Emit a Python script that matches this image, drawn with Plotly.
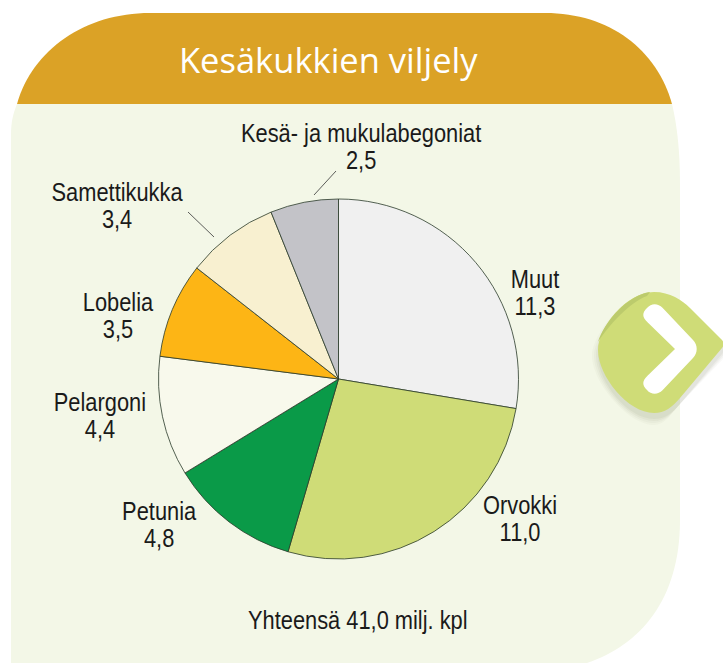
import plotly.graph_objects as go

W, H = 723, 663
categories = ["Muut", "Orvokki", "Petunia", "Pelargoni", "Lobelia", "Samettikukka", "Kesä- ja mukulabegoniat"]
values = [11.3, 11.0, 4.8, 4.4, 3.5, 3.4, 2.5]
value_labels = ["11,3", "11,0", "4,8", "4,4", "3,5", "3,4", "2,5"]
colors = ["#f0f0f0", "#cfdc77", "#0a9a48", "#f8f9ec", "#fdb515", "#f8f0d0", "#c3c3c8"]
label_pos = [(535, 292.5), (520, 519), (159, 525), (100, 416), (118, 315.5), (117, 206), (361, 146.5)]
title = "Kesäkukkien viljely"
total = "Yhteensä 41,0 milj. kpl"
FONT = "Liberation Sans, sans-serif"

px = lambda x: x / W
py = lambda y: 1 - y / H


def path(cmds):
    out = []
    for c in cmds:
        pts = " ".join(f"{px(c[i]):.5f},{py(c[i+1]):.5f}" for i in range(1, len(c), 2))
        out.append(f"{c[0]} {pts}")
    return " ".join(out) + " Z"


def shape(cmds, fill, opacity=1.0):
    return dict(type="path", xref="paper", yref="paper", path=path(cmds), fillcolor=fill,
                opacity=opacity, line=dict(width=0), layer="below")


def button(dx, dy, g=0):
    return [
        ("M", 598 + dx - g, 350 + dy),
        ("C", 598 + dx - g, 328 + dy, 626 + dx, 292 + dy - g, 654 + dx, 292 + dy - g),
        ("C", 670 + dx, 292 + dy - g, 682 + dx, 300 + dy, 690 + dx, 308 + dy),
        ("L", 722 + dx + g, 340 + dy),
        ("C", 724 + dx + g, 342 + dy, 724 + dx + g, 346 + dy, 722 + dx + g, 348 + dy),
        ("L", 680 + dx, 398 + dy),
        ("C", 672 + dx, 407 + dy, 665 + dx, 413 + dy + g, 654 + dx, 413 + dy + g),
        ("C", 628 + dx, 413 + dy + g, 598 + dx - g, 376 + dy, 598 + dx - g, 350 + dy),
    ]


chevron = [
    ("M", 675, 349), ("L", 647.5, 322.3),
    ("C", 642, 317, 642, 313, 647, 308), ("C", 651, 303, 658, 303, 662.5, 307.7),
    ("L", 693, 340), ("C", 698, 345, 698, 353, 693, 358), ("L", 662.5, 390.3),
    ("C", 658, 395, 651, 395, 647, 390), ("C", 642, 385, 642, 381, 647.5, 375.7),
]

shapes = [
    shape([("M", 11, 663), ("L", 11, 135), ("C", 11, 122, 13, 114, 17, 104), ("L", 672, 104),
           ("C", 677, 125, 680, 150, 680, 185), ("L", 680, 520),
           ("C", 680, 600, 640, 645, 587, 663)], "#f3f7e7"),
    shape([("M", 17, 104), ("C", 32, 50, 85, 13, 150, 13), ("L", 545, 13),
           ("C", 610, 13, 657, 50, 672, 104)], "#dba226"),
]
for g, op in [(6, 0.03), (4, 0.04), (2, 0.05), (0, 0.06)]:
    shapes.append(shape(button(0, 6, g), "#5a6440", op))
shapes.append(shape(button(0, 0), "#cfdc77"))
shapes.append(shape([("M", 598, 342), ("C", 604, 322, 628, 295, 650, 292), ("L", 647, 296),
                     ("C", 630, 302, 610, 324, 598, 342)], "#bccb6c"))
shapes.append(shape(chevron, "white"))
for x0, y0, x1, y1 in [(188, 212, 214, 237), (336, 171, 314, 195)]:
    shapes.append(dict(type="line", xref="paper", yref="paper", x0=px(x0), y0=py(y0), x1=px(x1), y1=py(y1),
                       line=dict(color="#333333", width=0.8)))


def note(text, x, y, font):
    return dict(text=text, x=px(x), y=py(y), xref="paper", yref="paper", showarrow=False,
                xanchor="center", yanchor="middle", align="center", font=font)


body_font = dict(family=FONT, size=26, color="#1a1a1a")
annotations = [note(title, 328, 59, dict(family="Open Sans, sans-serif", size=34.5, color="white")),
               note(total, 358, 620, body_font)]
for c, v, (x, y) in zip(categories, value_labels, label_pos):
    annotations.append(note(f"{c}<br>{v}", x, y, body_font))

fig = go.Figure(go.Pie(
    labels=categories, values=values, sort=False, direction="clockwise", rotation=0,
    textinfo="none", hoverinfo="label+value", showlegend=False,
    marker=dict(colors=colors, line=dict(color="#2a3a2a", width=0.8)),
    domain=dict(x=[px(158.5), px(518.5)], y=[py(559), py(199)]),
))
fig.update_layout(width=W, height=H, margin=dict(l=0, r=0, t=0, b=0), paper_bgcolor="white",
                  plot_bgcolor="white", shapes=shapes, annotations=annotations, showlegend=False)

# The reference uses a condensed face with tight leading; none is installed, so the real text
# is squeezed horizontally and its second line is pulled up.
post = """
document.body.style.margin = '0';
document.querySelectorAll('.annotation-text').forEach(function (t) {
  if (t.textContent.indexOf('viljely') >= 0) return;
  var lines = t.querySelectorAll('tspan.line');
  var dy = 0;
  if (lines.length > 1) {
    lines[1].removeAttribute('y');
    lines[1].setAttribute('dy', '27px');
    dy = 3.4;
  }
  var b = t.getBBox(), cx = b.x + b.width / 2;
  t.setAttribute('transform', 'translate(' + cx + ',' + dy + ') scale(0.84,1) translate(' + (-cx) + ',0)');
});
"""
fig.write_html("out.html", config=dict(displayModeBar=False), post_script=post)
